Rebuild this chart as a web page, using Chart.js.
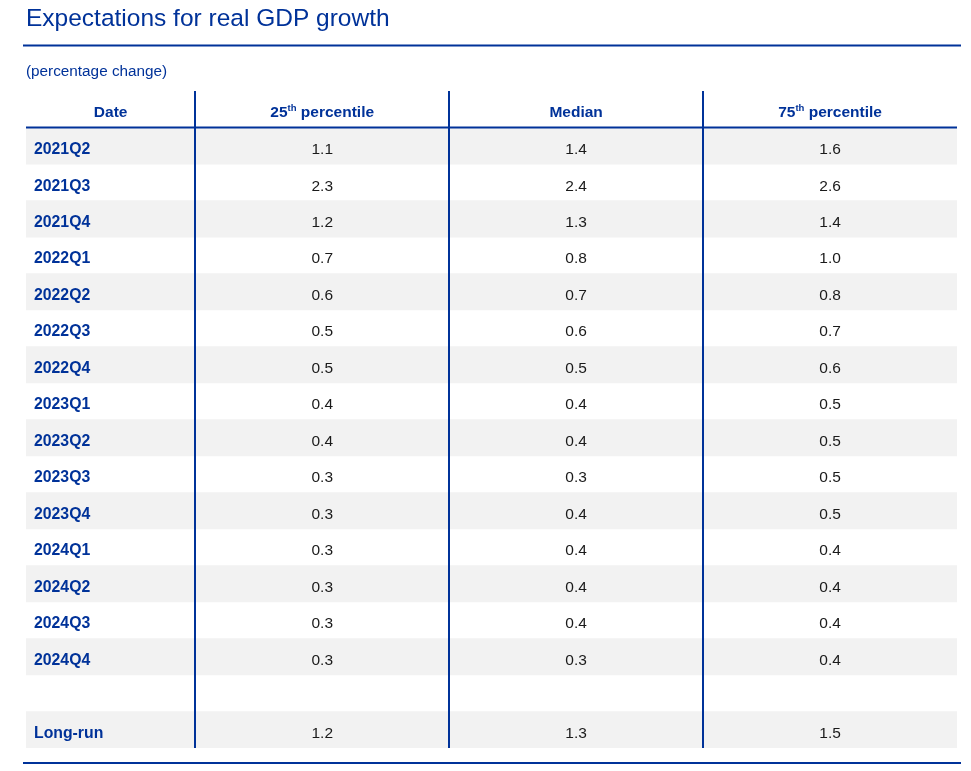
<!DOCTYPE html>
<html>
<head>
<meta charset="utf-8">
<script src="https://cdn.jsdelivr.net/npm/chart.js@4.4.1/dist/chart.umd.min.js"></script>
<style>
  html, body { margin: 0; padding: 0; background: #ffffff; }
  canvas { display: block; }
</style>
</head>
<body>
<canvas id="c" width="971" height="771"></canvas>
<script>
// ---- data ----
const titleText = 'Expectations for real GDP growth';
const unitText = '(percentage change)';
const columnHeaders = ['Date', '25th percentile', 'Median', '75th percentile'];
const dates = ['2021Q2', '2021Q3', '2021Q4', '2022Q1', '2022Q2', '2022Q3', '2022Q4',
               '2023Q1', '2023Q2', '2023Q3', '2023Q4', '2024Q1', '2024Q2', '2024Q3',
               '2024Q4', '', 'Long-run'];
const p25    = [1.1, 2.3, 1.2, 0.7, 0.6, 0.5, 0.5, 0.4, 0.4, 0.3, 0.3, 0.3, 0.3, 0.3, 0.3, null, 1.2];
const median = [1.4, 2.4, 1.3, 0.8, 0.7, 0.6, 0.5, 0.4, 0.4, 0.3, 0.4, 0.4, 0.4, 0.4, 0.3, null, 1.3];
const p75    = [1.6, 2.6, 1.4, 1.0, 0.8, 0.7, 0.6, 0.5, 0.5, 0.5, 0.5, 0.4, 0.4, 0.4, 0.4, null, 1.5];

// ---- layout / style ----
const BLUE = '#003299';
const GREY = '#f2f2f2';
const TEXT = '#1a1a1a';
const FONT = '"Liberation Sans", Arial, Helvetica, sans-serif';
const colWidths = [2, 3, 3, 3];
const colEdges = colWidths.reduce((a, w) => { a.push(a[a.length - 1] + w); return a; }, [0]);
const rowLabels = [columnHeaders[0]].concat(dates);
const series = [p25, median, p75];
const stripes = rowLabels.map((_, i) =>
  (i > 0 && (i - 1) % 2 === 0) ? [colEdges[0], colEdges[colEdges.length - 1]] : null);

const tablePlugin = {
  id: 'tableCells',
  afterDraw(chart) {
    const ctx = chart.ctx;
    const xs = chart.scales.x, ys = chart.scales.y, area = chart.chartArea;
    const colCenter = j => xs.getPixelForValue((colEdges[j] + colEdges[j + 1]) / 2);
    const base = (i, off) => ys.getPixelForValue(i) + off;
    ctx.save();

    // horizontal rules
    ctx.strokeStyle = BLUE;
    ctx.lineWidth = 2;
    const yHead = (ys.getPixelForValue(0) + ys.getPixelForValue(1)) / 2;
    const hline = (x1, x2, y) => { ctx.beginPath(); ctx.moveTo(x1, y); ctx.lineTo(x2, y); ctx.stroke(); };
    hline(area.left, area.right, yHead);
    hline(area.left - 3, area.right + 4, 45.5);
    hline(area.left - 3, area.right + 4, area.bottom + 15);

    // header row
    ctx.fillStyle = BLUE;
    ctx.textBaseline = 'alphabetic';
    columnHeaders.forEach((h, j) => {
      const cx = colCenter(j);
      const y = base(0, 7.2);
      const m = h.match(/^(\d+)(th|st|nd|rd)(.*)$/);
      if (m) {
        const big = 'bold 15.5px ' + FONT, small = 'bold 9.5px ' + FONT;
        ctx.font = big; const w1 = ctx.measureText(m[1]).width; const w3 = ctx.measureText(m[3]).width;
        ctx.font = small; const w2 = ctx.measureText(m[2]).width;
        let x = cx - (w1 + w2 + w3) / 2;
        ctx.textAlign = 'left';
        ctx.font = big; ctx.fillText(m[1], x, y); x += w1;
        ctx.font = small; ctx.fillText(m[2], x, y - 5.8); x += w2;
        ctx.font = big; ctx.fillText(m[3], x, y);
      } else {
        ctx.font = 'bold 15.5px ' + FONT;
        ctx.textAlign = 'center';
        ctx.fillText(h, cx, y);
      }
    });

    // date column
    ctx.font = 'bold 15.8px ' + FONT;
    ctx.textAlign = 'left';
    ctx.fillStyle = BLUE;
    dates.forEach((d, i) => {
      if (d) ctx.fillText(d, xs.getPixelForValue(colEdges[0]) + 8, base(i + 1, 8.2));
    });

    // value cells
    ctx.font = '15.5px ' + FONT;
    ctx.textAlign = 'center';
    ctx.fillStyle = TEXT;
    series.forEach((s, k) => {
      const cx = colCenter(k + 1);
      s.forEach((v, i) => {
        if (v !== null && v !== undefined) ctx.fillText(v.toFixed(1), cx, base(i + 1, 8.2));
      });
    });
    ctx.restore();
  }
};

new Chart(document.getElementById('c'), {
  type: 'bar',
  data: {
    labels: rowLabels,
    datasets: [{
      label: 'rows',
      data: stripes,
      backgroundColor: GREY,
      borderWidth: 0,
      barPercentage: 1,
      categoryPercentage: 1
    }]
  },
  options: {
    indexAxis: 'y',
    responsive: false,
    animation: false,
    events: [],
    layout: { padding: { top: 0, left: 26, right: 14, bottom: 23 } },
    scales: {
      y: { type: 'category', display: false },
      x: {
        type: 'linear',
        min: colEdges[0],
        max: colEdges[colEdges.length - 1],
        display: true,
        afterBuildTicks: scale => { scale.ticks = colEdges.slice(1, -1).map(v => ({ value: v })); },
        ticks: { display: false },
        border: { display: false },
        grid: { color: BLUE, lineWidth: 2, drawTicks: false, z: 1 }
      }
    },
    plugins: {
      legend: { display: false },
      tooltip: { enabled: false },
      title: {
        display: true, text: titleText, align: 'start', color: BLUE,
        font: { family: FONT, size: 24.5, weight: 'normal' },
        padding: { top: 4.5, bottom: 0 }
      },
      subtitle: {
        display: true, text: unitText, align: 'start', color: BLUE,
        font: { family: FONT, size: 15.3, weight: 'normal' },
        padding: { top: 28.6, bottom: 10.2 }
      }
    }
  },
  plugins: [tablePlugin]
});
</script>
</body>
</html>
